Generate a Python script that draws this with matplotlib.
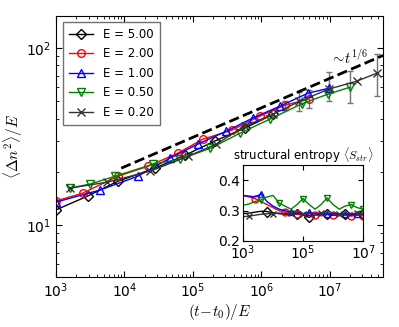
import matplotlib
matplotlib.use("Agg")
import matplotlib.pyplot as plt
import numpy as np

plt.rcParams['mathtext.fontset'] = 'cm'
plt.rcParams['font.family'] = ['DejaVu Sans']
plt.rcParams['xtick.direction'] = 'in'
plt.rcParams['ytick.direction'] = 'in'

labels = ["E = 5.00", "E = 2.00", "E = 1.00", "E = 0.50", "E = 0.20"]
colors = ["k", "r", "b", "g", "0.2"]
markers = ["D", "o", "^", "v", "x"]

# main panel data
t_e5 = [1e3, 2.9e3, 8e3, 2.8e4, 7.6e4, 2.1e5, 5.7e5, 1.5e6]
y_e5 = [12.2, 14.6, 17.7, 21.0, 24.8, 29.9, 35.3, 42.4]

t_e2 = [1e3, 2.5e3, 8e3, 2.2e4, 6e4, 1.4e5, 3.7e5, 9.5e5, 2.2e6, 4.9e6]
y_e2 = [13.7, 15.2, 18.9, 21.5, 25.5, 30.6, 34.4, 41.3, 47.6, 51.5]

t_e1 = [1e3, 4.4e3, 1.57e4, 4.6e4, 1.18e5, 3.1e5, 7.5e5, 1.86e6, 4.8e6, 9.7e6]
y_e1 = [13.5, 15.8, 18.9, 23.9, 28.7, 34.0, 40.3, 47.0, 55.7, 59.4]

t_e05 = [1.6e3, 3.2e3, 7.3e3, 2.6e4, 6.5e4, 1.8e5, 4.9e5, 1.33e6, 3.9e6, 9.4e6, 2e7]
y_e05 = [16.2, 17.1, 18.9, 22.1, 23.6, 27.2, 33.1, 39.7, 48.5, 55.0, 60.3]

t_e02 = [1.6e3, 5.6e3, 2.4e4, 8.5e4, 2.2e5, 5.7e5, 1.5e6, 3.6e6, 9.7e6, 2.5e7, 4.9e7]
y_e02 = [16.2, 17.5, 20.2, 24.5, 28.7, 36.2, 42.4, 50.1, 58.7, 65.2, 72.3]

# error bars (gray): position, lower, upper
err_t = [4.9e6, 9.7e6, 2e7, 4.9e7, 2.2e6, 3.6e6]
err_y = [51.5, 59.4, 60.3, 72.3, 47.6, 50.1]
err_lo = [45.8, 50.3, 48.9, 53.6, 44.5, 44.0]
err_hi = [57.8, 73.3, 74.4, 92.5, 50.5, 56.5]

# reference power law t^(1/6)
t_ref = [9e3, 6e7]
y_ref = [21.0, 91.0]

# inset data: structural entropy
t_in = [1e3, 1.6e3, 2.5e3, 4e3, 6.3e3, 1e4, 1.6e4, 2.5e4, 4e4, 6.3e4, 1e5,
        1.6e5, 2.5e5, 4e5, 6.3e5, 1e6, 1.6e6, 2.5e6, 4e6, 6.3e6, 1e7]
s_e5 = [0.29, 0.292, 0.295, 0.298, 0.297, 0.293, 0.29, 0.288, 0.29, 0.29, 0.285,
        0.278, 0.285, 0.29, 0.288, 0.29, 0.287, 0.29, 0.288, 0.29, 0.29]
s_e2 = [0.35, 0.345, 0.34, 0.33, 0.32, 0.31, 0.30, 0.295, 0.29, 0.288, 0.285,
        0.29, 0.285, 0.283, 0.287, 0.285, 0.283, 0.285, 0.282, 0.285, 0.283]
s_e1 = [0.35, 0.348, 0.345, 0.355, 0.33, 0.315, 0.305, 0.30, 0.295, 0.29, 0.29,
        0.295, 0.29, 0.287, 0.29, 0.285, 0.288, 0.29, 0.285, 0.288, 0.29]
s_e05 = [0.318, 0.322, 0.33, 0.335, 0.345, 0.35, 0.325, 0.315, 0.305, 0.32, 0.34,
         0.32, 0.305, 0.32, 0.342, 0.32, 0.305, 0.315, 0.32, 0.31, 0.305]
s_e02 = [0.28, 0.282, 0.285, 0.288, 0.29, 0.29, 0.292, 0.29, 0.293, 0.295, 0.29,
         0.292, 0.29, 0.293, 0.29, 0.292, 0.29, 0.288, 0.29, 0.292, 0.29]

fig = plt.figure(figsize=(3.99, 3.27), dpi=100)
ax = fig.add_axes([0.140, 0.153, 0.820, 0.798])

series = [(t_e5, y_e5), (t_e2, y_e2), (t_e1, y_e1), (t_e05, y_e05), (t_e02, y_e02)]
ax.errorbar(err_t, err_y,
            yerr=[np.array(err_y) - np.array(err_lo), np.array(err_hi) - np.array(err_y)],
            fmt='none', ecolor='0.45', elinewidth=1, capsize=2)
for (t, y), lab, c, m in zip(series, labels, colors, markers):
    ax.plot(t, y, color=c, marker=m, mfc='none', mec=c, ms=5.5 if m != 'D' else 5.5,
            lw=1, label=lab)
ax.plot(t_ref, y_ref, 'k--', lw=2)
ax.text(1.0e7, 82, r'$\sim\!t^{1/6}$', fontsize=10.5, va='baseline')

ax.set_xscale('log')
ax.set_yscale('log')
ax.set_xlim(1e3, 6e7)
ax.set_ylim(5.1, 152)
ax.tick_params(which='both', top=True, right=True, labelsize=10)
ax.tick_params(which='major', length=4)
ax.tick_params(which='minor', length=2)
ax.set_xlabel(r'$(t\!-\!t_0)/E$', fontsize=11, labelpad=1)
ax.set_ylabel(r'$\langle\Delta n^2\rangle/E$', fontsize=11)
ax.yaxis.set_label_coords(-0.095, 0.5)
leg = ax.legend(loc='upper left', fontsize=8.5, numpoints=1, fancybox=False,
                handlelength=2.1, borderpad=0.5, labelspacing=0.55,
                borderaxespad=0, bbox_to_anchor=(0.021, 0.977))
leg.get_frame().set_edgecolor('0.3')

# inset
axin = fig.add_axes([0.609, 0.263, 0.301, 0.232])
insets = [s_e5, s_e2, s_e1, s_e05, s_e02]
marks_in = [[4, 9, 11, 14, 17, 20], [2, 7, 9, 12, 15, 18, 20], [3, 8, 11, 14, 17, 19],
            [3, 6, 10, 14, 18, 20], [1, 5, 8, 10, 13, 16, 19]]
for s, c, m, me in zip(insets, colors, markers, marks_in):
    axin.plot(t_in, s, color=c, marker=m, mfc='none', mec=c,
              ms=5, lw=1, markevery=me)
axin.set_xscale('log')
axin.set_xlim(1e3, 1e7)
axin.set_ylim(0.2, 0.45)
axin.set_yticks([0.2, 0.3, 0.4])
axin.set_xticks([1e3, 1e5, 1e7])
axin.xaxis.set_minor_locator(matplotlib.ticker.NullLocator())
axin.tick_params(which='both', top=True, right=True, labelsize=10, pad=2)
axin.set_title(r'structural entropy $\langle S_{str}\rangle$', fontsize=8.5, pad=2)

fig.savefig('out.png', dpi=100)
